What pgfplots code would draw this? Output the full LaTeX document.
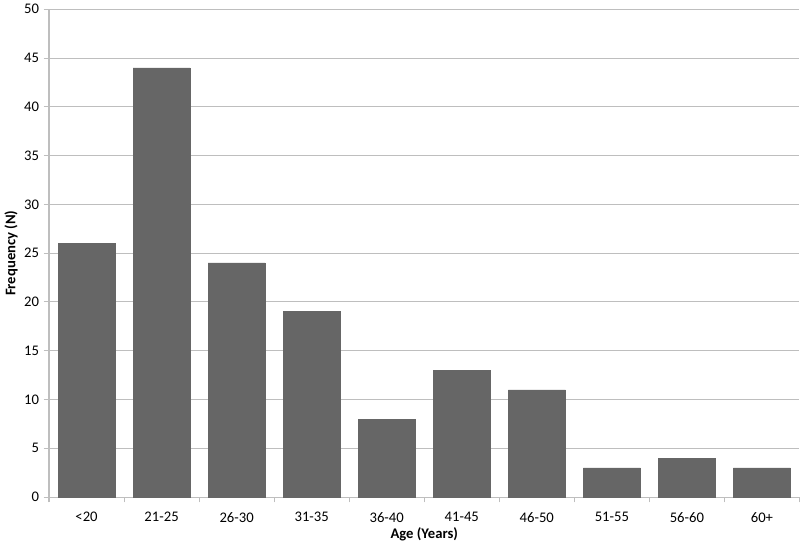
\documentclass[border=0pt]{standalone}
\usepackage{pgfplots}
\pgfplotsset{compat=1.18}
\usepackage{fontspec}
\setmainfont{Carlito}
\definecolor{barfill}{HTML}{666666}
\definecolor{gridc}{HTML}{BEBEBE}
\newcommand{\figfont}{\fontsize{11}{13}\selectfont}

\begin{document}
\begin{tikzpicture}
\begin{axis}[scale only axis, width=563pt, height=366pt,
  xmin=-0.5, xmax=9.5, ymin=0, ymax=50,
  ytick={0,5,...,50}, xtick={0,...,9},
  xticklabels={{<20},{21-25},{26-30},{31-35},{36-40},{41-45},{46-50},{51-55},{56-60},{60+}},
  minor xtick={-0.5,0.5,...,9.5},
  major x tick style={draw=none}, minor x tick style={gridc, line width=0.8pt},
  minor tick length=4pt, tick align=outside,
  major y tick style={gridc, line width=0.8pt}, major tick length=4pt,
  axis x line*=bottom, axis y line*=left,
  axis line style={gridc, line width=0.8pt, -},
  ymajorgrids, grid style={gridc, line width=0.8pt},
  tick label style={font=\figfont},
  xticklabel style={yshift=-4pt},
  /pgf/number format/assume math mode=true,
  xlabel={\bfseries Age (Years)}, ylabel={\bfseries Frequency (N)},
  label style={font=\figfont},
  xlabel style={yshift=3pt}, ylabel style={yshift=-2pt},
  ]
\addplot[ybar, bar width=0.76, fill=barfill, draw=barfill] coordinates {
(0,26) (1,44) (2,24) (3,19) (4,8) (5,13) (6,11) (7,3) (8,4) (9,3)};
\end{axis}
\end{tikzpicture}
\end{document}
